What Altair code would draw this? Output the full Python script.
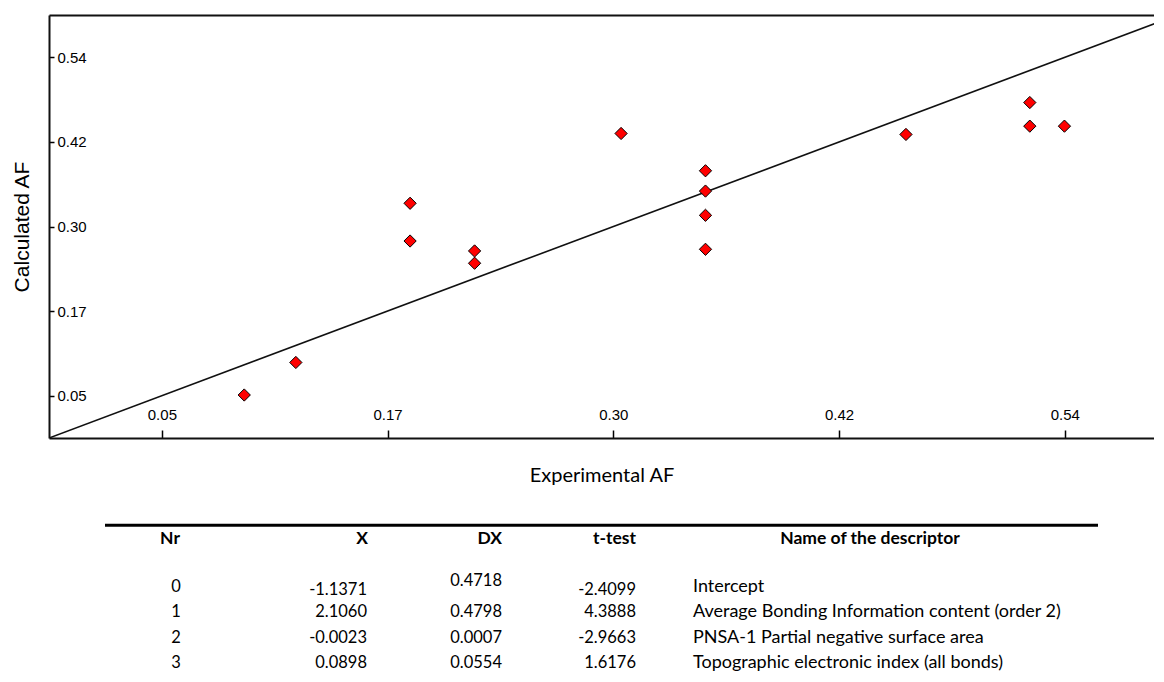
import altair as alt
import pandas as pd

# ---- scatter data ----
exp_af = [0.0947, 0.1227, 0.1847, 0.1847, 0.2197, 0.2197, 0.2992,
          0.3450, 0.3450, 0.3450, 0.3450, 0.4538, 0.5210, 0.5210, 0.5398]
calc_af = [0.0510, 0.0981, 0.3286, 0.2740, 0.2596, 0.2418, 0.4297,
           0.3757, 0.3463, 0.3112, 0.2620, 0.4283, 0.4745, 0.4403, 0.4403]

tick_values = [0.05, 0.1725, 0.295, 0.4175, 0.54]
tick_labels = ["0.05", "0.17", "0.30", "0.42", "0.54"]
x_domain = [-0.01125, 0.5884]
y_domain = [-0.01125, 0.60125]
diag = [-0.01125, 0.60125]   # y = x reference line

# ---- table data ----
nr = [0, 1, 2, 3]
coef_x = ["-1.1371", "2.1060", "-0.0023", "0.0898"]
coef_dx = ["0.4718", "0.4798", "0.0007", "0.0554"]
t_test = ["-2.4099", "4.3888", "-2.9663", "1.6176"]
names = ["Intercept",
         "Average Bonding Information content (order 2)",
         "PNSA-1 Partial negative surface area",
         "Topographic electronic index (all bonds)"]
headers = ["Nr", "X", "DX", "t-test", "Name of the descriptor"]

W, H = 1105, 423
pts = pd.DataFrame({"exp": exp_af, "calc": calc_af})
line_df = pd.DataFrame({"x": diag, "y": diag})

sx = alt.Scale(domain=x_domain, nice=False, zero=False)
sy = alt.Scale(domain=y_domain, nice=False, zero=False)

label_expr = ("[" + ",".join(f"'{l}'" for l in tick_labels) + "][indexof(["
              + ",".join(str(v) for v in tick_values) + "], datum.value)]")

AX_FONT = "Liberation Sans"

bottom_axis = alt.Axis(orient="bottom", domain=True, domainColor="#111", domainWidth=2,
                       ticks=False, labels=False, grid=False,
                       title="Experimental AF", titleFont="Lato", titleFontSize=20,
                       titleFontWeight="normal", titleColor="#000", titlePadding=27)
left_axis = alt.Axis(orient="left", domain=True, domainColor="#111", domainWidth=2,
                     ticks=False, labels=False, grid=False,
                     title="Calculated AF", titleFont=AX_FONT, titleFontSize=21,
                     titleFontWeight="normal", titleColor="#000", titlePadding=17)
top_tick_axis = alt.Axis(orient="top", offset=-H, domain=False, grid=False,
                         values=tick_values, labelExpr=label_expr, labelOverlap=False,
                         ticks=True, tickSize=8, tickColor="#000", tickWidth=1.5,
                         labelFont=AX_FONT, labelFontSize=15, labelColor="#000",
                         labelPadding=8, title=None)
right_tick_axis = alt.Axis(orient="right", offset=-W, domain=False, grid=False,
                           values=tick_values, labelExpr=label_expr, labelOverlap=False,
                           ticks=True, tickSize=5, tickColor="#000", tickWidth=1.5,
                           labelFont=AX_FONT, labelFontSize=15, labelColor="#000",
                           labelPadding=3, labelAlign="left", title=None)
top_border_axis = alt.Axis(orient="top", domain=True, domainColor="#111", domainWidth=2,
                           ticks=False, labels=False, grid=False, title=None)
blank_y_axis = alt.Axis(orient="left", domain=False, ticks=False, labels=False,
                        grid=False, title=None)

points = alt.Chart(pts).mark_point(shape="diamond", filled=True, fill="#ff0000",
                                   stroke="#000", strokeWidth=1, size=150, opacity=1).encode(
    x=alt.X("exp:Q", scale=sx, axis=bottom_axis),
    y=alt.Y("calc:Q", scale=sy, axis=left_axis),
)

diag_line = alt.Chart(line_df).mark_line(color="#111", strokeWidth=1.6, clip=True).encode(
    x=alt.X("x:Q", scale=sx, axis=top_tick_axis),
    y=alt.Y("y:Q", scale=sy, axis=right_tick_axis),
)

frame = alt.Chart(line_df).mark_line(opacity=0, clip=True).encode(
    x=alt.X("x:Q", scale=sx, axis=top_border_axis),
    y=alt.Y("y:Q", scale=sy, axis=blank_y_axis),
)

# ---- table (rows placed below the plot through a row scale) ----
tbl = pd.DataFrame({"Nr": nr, "X": coef_x, "DX": coef_dx, "T": t_test, "Name": names})
hdr = pd.DataFrame({"Nr": [-2]})
ty = alt.Scale(domain=[-2, 3], range=[521, 648], nice=False, zero=False)
TFONT = "Lato"
NUM_SIZE = 16.5
NAME_SIZE = 18
HEAD_SIZE = 17.5


def column(field, xpx, align, dy0=0, size=NUM_SIZE):
    enc = dict(x=alt.value(xpx), y=alt.Y("Nr:Q", scale=ty, axis=None), text=f"{field}:N")
    first = alt.Chart(tbl).transform_filter("datum.Nr == 0").mark_text(
        align=align, baseline="middle", font=TFONT, fontSize=size, color="#000", dy=dy0
    ).encode(**enc)
    rest = alt.Chart(tbl).transform_filter("datum.Nr != 0").mark_text(
        align=align, baseline="middle", font=TFONT, fontSize=size, color="#000"
    ).encode(**enc)
    return [first, rest]


def header(i, xpx, align):
    return alt.Chart(hdr).mark_text(
        text=headers[i], align=align, baseline="middle", font=TFONT,
        fontSize=HEAD_SIZE, fontWeight="bold", color="#000", dy=3
    ).encode(x=alt.value(xpx), y=alt.Y("Nr:Q", scale=ty, axis=None))


table_rule = alt.Chart(hdr).transform_calculate(pos="datum.Nr - 0.42").mark_rule(
    color="#000", strokeWidth=3
).encode(x=alt.value(56), x2=alt.value(1049), y=alt.Y("pos:Q", scale=ty, axis=None))

table_layers = [table_rule,
                header(0, 121, "center"), header(1, 319, "right"), header(2, 453, "right"),
                header(3, 587, "right"), header(4, 821, "center")]
table_layers += column("Nr", 127, "center")
table_layers += column("X", 318, "right", 3)
table_layers += column("DX", 453, "right", -6)
table_layers += column("T", 587, "right", 3)
table_layers += column("Name", 644, "left", 0, NAME_SIZE)

chart = alt.layer(diag_line, points, frame, *table_layers).resolve_scale(
    x="independent", y="independent"
).properties(
    width=W, height=H, background="white",
    padding={"left": 3, "top": 7, "right": 0, "bottom": 0},
).configure_view(stroke=None)

chart.save("out.html", embed_options={"renderer": "svg", "actions": False})
